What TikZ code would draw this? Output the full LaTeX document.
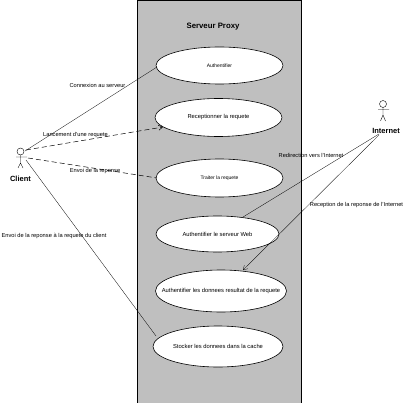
\documentclass[tikz,border=0pt]{standalone}
\usepackage{fontspec}
\setmainfont{Liberation Sans}
\usetikzlibrary{arrows.meta,shapes.geometric}
\newcommand{\uctext}[1]{\makebox[0pt]{#1}}
\tikzset{
  x=1pt,y=-1pt,
  usecase/.style={draw=black,fill=white,ellipse,line width=0.6pt,inner sep=0pt,font=\fontsize{5.8}{7}\selectfont},
  smalluse/.style={usecase,font=\fontsize{5}{6}\selectfont},
  lbl/.style={font=\fontsize{5.7}{7}\selectfont,inner sep=0pt},
  actorname/.style={font=\fontsize{7.5}{9}\selectfont\bfseries,inner sep=0pt},
  title/.style={font=\fontsize{7.8}{9}\selectfont\bfseries,inner sep=0pt},
  thinlink/.style={draw=black,line width=0.3pt},
  dashlink/.style={draw=black,line width=0.5pt,dash pattern=on 5pt off 3pt},
  openhead/.style={-{Straight Barb[length=4pt,width=5pt]}},
  stick/.style={draw=black,line width=0.4pt},
}
\begin{document}
\begin{tikzpicture}
\useasboundingbox (0,0) rectangle (403,403);
\fill[white] (0,0) rectangle (403,403);
\fill[fill={rgb,255:red,191;green,191;blue,191}] (137,0) rectangle (301,403);
\draw[line width=0.7pt] (137,403) -- (137,0.3) -- (301,0.3) -- (301,403);
\node[title] (title) at (213,27) {Serveur Proxy};
\node[smalluse,minimum width=127pt,minimum height=37pt] (e1) at (219.5,65.5) {\uctext{Authentifier}};
\node[usecase,minimum width=127pt,minimum height=38pt] (e2) at (218.5,117.5) {\uctext{Receptionner la requete}};
\node[smalluse,minimum width=127pt,minimum height=38pt] (e3) at (219.5,178) {\uctext{Traiter la requete}};
\node[usecase,minimum width=123pt,minimum height=36pt] (e4) at (217.5,234) {\uctext{Authentifier le serveur Web}};
\node[usecase,minimum width=131pt,minimum height=42pt] (e5) at (221,291) {\uctext{Authentifier les donnees resultat de la requete}};
\node[usecase,minimum width=130pt,minimum height=41pt] (e6) at (218,346.5) {\uctext{Stocker les donnees dans la cache}};
% actors
\coordinate (c) at (20.5,151.5);
\draw[stick] (c) circle (3.5);
\draw[stick] (20.5,155) -- (20.5,163) (16,157) -- (27,157) (20.5,163) -- (18,168) (20.5,163) -- (23,168);
\node[actorname] (client) at (20.5,179) {Client};
\coordinate (i) at (383,104);
\draw[stick] (i) circle (3.5);
\draw[stick] (383,107.5) -- (383,115) (378,109.5) -- (389,109.5) (383,115) -- (380.5,121) (383,115) -- (385.5,121);
\node[actorname] (internet) at (386,131) {Internet};
% connectors
\coordinate (ca) at (25,151);
\coordinate (cb) at (26,150);
\coordinate (cc) at (28,158);
\coordinate (cd) at (26,160);
\coordinate (ia) at (379,134);
\coordinate (ib) at (379,135);
\coordinate (e2a) at (163,127);
\coordinate (e4a) at (243,217);
\coordinate (e5a) at (243,270);
\coordinate (e1a) at (157,67);
\coordinate (e3a) at (157,178);
\coordinate (e6a) at (156,336);
\draw[thinlink] (ca) -- (e1a);
\draw[dashlink,openhead] (cb) -- (e2a);
\draw[dashlink] (cc) -- (e3a);
\draw[thinlink] (cd) -- (e6a);
\draw[thinlink] (ia) -- (e4a);
\draw[thinlink,openhead] (ib) -- (e5a);
% labels
\node[lbl] (l1) at (97.5,85) {Connexion au serveur};
\node[lbl] (l2) at (75.5,135) {Lancement d'une requete};
\node[lbl] (l3) at (95,171) {Envoi de la reponse};
\node[lbl] (l4) at (54,236) {Envoi de la reponse à la requete du client};
\node[lbl] (l5) at (311,155) {Redirection vers l'Internet};
\node[lbl] (l6) at (356.5,205.5) {Reception de la reponse de l'Internet};
\end{tikzpicture}
\end{document}
